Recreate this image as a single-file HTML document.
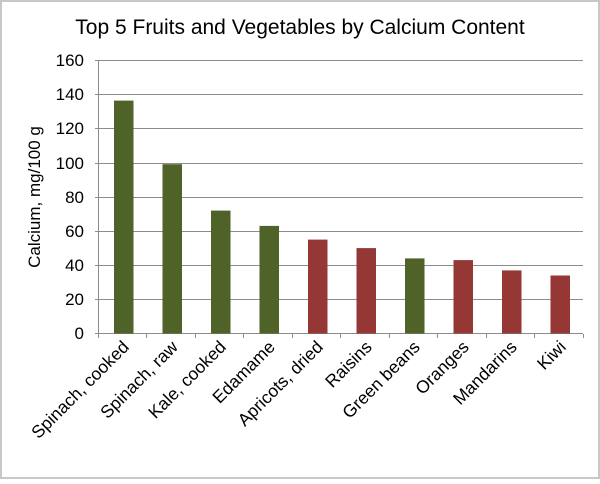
<!DOCTYPE html>
<html><head><style>
body{margin:0;background:#fff;}
text{font-family:"Liberation Sans",Arial,sans-serif;fill:#000;}
</style></head><body>
<svg width="600" height="479" xmlns="http://www.w3.org/2000/svg">
<rect x="1" y="1" width="598" height="477" fill="#fff" stroke="#c8c8c8" stroke-width="2"/>
<text x="300" y="34" font-size="21" text-anchor="middle">Top 5 Fruits and Vegetables by Calcium Content</text>
<g stroke="#8c8c8c" stroke-width="1">
<line x1="95" y1="60.5" x2="583" y2="60.5"/>
<line x1="95" y1="94.5" x2="583" y2="94.5"/>
<line x1="95" y1="128.5" x2="583" y2="128.5"/>
<line x1="95" y1="163.5" x2="583" y2="163.5"/>
<line x1="95" y1="197.5" x2="583" y2="197.5"/>
<line x1="95" y1="231.5" x2="583" y2="231.5"/>
<line x1="95" y1="265.5" x2="583" y2="265.5"/>
<line x1="95" y1="299.5" x2="583" y2="299.5"/>
<line x1="95" y1="333.5" x2="583" y2="333.5"/>
<line x1="98.5" y1="60" x2="98.5" y2="338"/>
</g>
<g stroke="#8c8c8c">
<line x1="146.5" y1="334" x2="146.5" y2="338"/><line x1="195.5" y1="334" x2="195.5" y2="338"/>
<line x1="243.5" y1="334" x2="243.5" y2="338"/><line x1="292.5" y1="334" x2="292.5" y2="338"/>
<line x1="340.5" y1="334" x2="340.5" y2="338"/><line x1="389.5" y1="334" x2="389.5" y2="338"/>
<line x1="437.5" y1="334" x2="437.5" y2="338"/><line x1="486.5" y1="334" x2="486.5" y2="338"/>
<line x1="534.5" y1="334" x2="534.5" y2="338"/><line x1="583.5" y1="334" x2="583.5" y2="338"/>
</g>
<g font-size="17" text-anchor="end">
<text x="84" y="66">160</text><text x="84" y="100">140</text><text x="84" y="134">120</text>
<text x="84" y="169">100</text><text x="84" y="203">80</text><text x="84" y="237">60</text>
<text x="84" y="271">40</text><text x="84" y="305">20</text><text x="84" y="339">0</text>
</g>
<text transform="translate(40,197) rotate(-90)" font-size="17" text-anchor="middle">Calcium, mg/100 g</text>
<g>
<rect x="114" y="100.6" width="19.5" height="233" fill="#4f6228"/>
<rect x="162.5" y="164.2" width="19.5" height="169.4" fill="#4f6228"/>
<rect x="211" y="210.6" width="19.5" height="123" fill="#4f6228"/>
<rect x="259.5" y="225.9" width="19.5" height="107.7" fill="#4f6228"/>
<rect x="308" y="239.6" width="19.5" height="94" fill="#953735"/>
<rect x="356.5" y="248.1" width="19.5" height="85.5" fill="#953735"/>
<rect x="405" y="258.4" width="19.5" height="75.2" fill="#4f6228"/>
<rect x="453.5" y="260.1" width="19.5" height="73.5" fill="#953735"/>
<rect x="502" y="270.4" width="19.5" height="63.2" fill="#953735"/>
<rect x="550.5" y="275.5" width="19.5" height="58.1" fill="#953735"/>
</g>
<g font-size="17.5" text-anchor="end">
<text transform="translate(130,348) rotate(-45)">Spinach, cooked</text>
<text transform="translate(179,348) rotate(-45)">Spinach, raw</text>
<text transform="translate(227,348) rotate(-45)">Kale, cooked</text>
<text transform="translate(276,348) rotate(-45)">Edamame</text>
<text transform="translate(324,348) rotate(-45)">Apricots, dried</text>
<text transform="translate(373,348) rotate(-45)">Raisins</text>
<text transform="translate(421,348) rotate(-45)">Green beans</text>
<text transform="translate(470,348) rotate(-45)">Oranges</text>
<text transform="translate(518,348) rotate(-45)">Mandarins</text>
<text transform="translate(567,348) rotate(-45)">Kiwi</text>
</g>
</svg>
</body></html>
